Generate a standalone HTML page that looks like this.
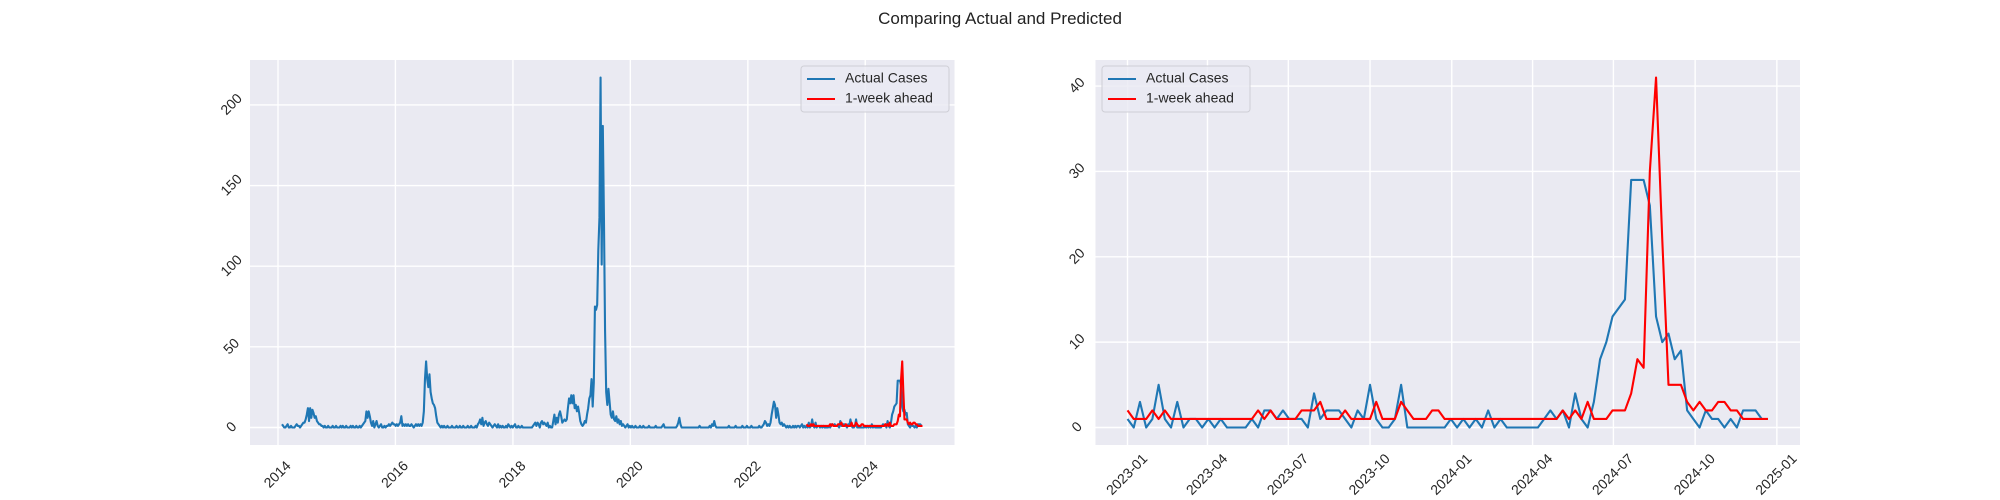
<!DOCTYPE html>
<html><head><meta charset="utf-8"><style>
html,body{margin:0;padding:0;background:#fff;}
svg{display:block;font-family:"Liberation Sans","DejaVu Sans",sans-serif;}
</style></head><body>
<svg id="fig" width="2000" height="500" viewBox="0 0 2000 500" xmlns="http://www.w3.org/2000/svg">
<text x="1000" y="24" text-anchor="middle" font-size="17" fill="#222">Comparing Actual and Predicted</text>
</svg>
<script>
// ---------- data ----------
const histActual = [
2,1,0,0,1,2,0,0,1,0,0,0,1,2,1,1,0,1,2,3,3,5,8,12,4,12,6,11,9,6,7,4,3,2,2,1,1,0,1,0,0,1,0,0,0,1,0,0,1,0,
0,0,1,0,1,0,0,1,0,0,0,1,0,1,0,0,1,0,0,1,0,1,2,3,4,10,6,10,7,3,1,4,0,2,4,1,0,1,2,0,0,1,0,1,1,2,1,2,3,2,2,1,
2,1,2,3,7,1,2,1,2,1,2,1,1,2,1,0,1,2,1,2,1,2,1,3,10,30,41,30,25,33,22,18,15,14,12,7,3,2,1,0,1,0,1,0,0,1,0,0,0,1,0,0,
0,1,0,0,1,0,0,1,0,0,0,1,0,0,1,0,0,0,1,0,2,3,5,2,6,1,3,4,2,1,3,2,1,0,1,2,1,0,2,0,1,0,1,0,0,1,0,2,1,0,1,0,
1,2,0,0,1,0,0,1,0,0,0,0,0,0,0,0,0,1,2,3,1,3,2,0,3,4,2,3,2,1,3,0,1,0,0,4,8,2,6,3,8,10,7,3,4,5,4,5,12,18,15,20,
15,20,12,14,10,13,9,4,2,1,2,4,3,8,12,18,20,30,13,28,75,73,76,110,130,217,101,187,130,60,22,14,24,16,8,6,10,5,4,7,3,5,2,4,1,2,1,0,1,2,0,1,
0,1,0,0,1,0,0,0,1,0,0,1,0,0,0,0,1,0,0,0,0,0,1,0,0,0,0,0,1,2,0,0,0,0,0,0,0,0,0,0,0,1,3,6,2,0,0,0,0,0,0,0,
0,0,0,0,0,0,0,0,0,1,0,0,0,0,0,0,0,0,1,0,2,1,4,1,0,0,0,0,0,0,0,0,0,0,0,1,0,0,0,0,0,1,0,0,0,0,0,1,0,0,0,1,
0,0,0,1,0,0,0,0,0,0,1,0,0,1,2,4,3,1,2,1,3,8,12,16,14,6,12,8,3,2,3,1,2,1,0,1,0,1,0,0,1,0,1,0,1,1,0,1,2,0,1,0
];
const recentActual = [
1,0,3,0,1,5,1,0,3,0,1,1,0,1,0,1,0,0,0,0,1,0,2,2,1,2,1,1,1,0,4,1,2,2,2,1,0,2,1,5,
1,0,0,1,5,0,0,0,0,0,0,0,1,0,1,0,1,0,2,0,1,0,0,0,0,0,0,1,2,1,2,0,4,1,0,3,8,10,13,14,
15,29,29,29,26,13,10,11,8,9,2,1,0,2,1,1,0,1,0,2,2,2,1
];
const predicted = [
2,1,1,1,2,1,2,1,1,1,1,1,1,1,1,1,1,1,1,1,1,2,1,2,1,1,1,1,2,2,2,3,1,1,1,2,1,1,1,1,
3,1,1,1,3,2,1,1,1,2,2,1,1,1,1,1,1,1,1,1,1,1,1,1,1,1,1,1,1,1,2,1,2,1,3,1,1,1,2,2,
2,4,8,7,30,41,22,5,5,5,3,2,3,2,2,3,3,2,2,1,1,1,1,1
];
const leftYTicks = [0,50,100,150,200];
const rightYTicks = [0,10,20,30,40];
const leftXTickYears = [2014,2016,2018,2020,2022,2024];
const rightXTickLabels = ["2023-01","2023-04","2023-07","2023-10","2024-01","2024-04","2024-07","2024-10","2025-01"];

// ---------- helpers ----------
const NS="http://www.w3.org/2000/svg";
const svg=document.getElementById('fig');
const DAY=86400000, WEEK=7*DAY;
const start23=Date.UTC(2023,0,1);
const histDates=histActual.map((_,i)=>start23-(histActual.length-i)*WEEK);
const recentDates=recentActual.map((_,i)=>start23+i*WEEK);
const predDates=predicted.map((_,i)=>start23+i*WEEK);
function el(tag,attrs,parent){const e=document.createElementNS(NS,tag);for(const k in attrs)e.setAttribute(k,attrs[k]);(parent||svg).appendChild(e);return e;}

function drawAxes(cfg){
  const {x0,x1,y0,y1,xmin,xmax,ymin,ymax,name}=cfg;
  const g=el('g',{});
  
  
  const bg=el('rect',{x:x0,y:y0,width:x1-x0,height:y1-y0,fill:'#EAEAF2'},g);
  
  
  const sx=v=>x0+(v-xmin)/(xmax-xmin)*(x1-x0);
  const sy=v=>y1-(v-ymin)/(ymax-ymin)*(y1-y0);
  return {g,sx,sy};
}
function xTick(ax,cfg,val,label){
  const x=ax.sx(val);
  const l=el('line',{x1:x,x2:x,y1:cfg.y0,y2:cfg.y1,stroke:'#fff','stroke-width':1.4},ax.g);
  
  
  const t=el('text',{x:x,y:cfg.y1+30,'text-anchor':'middle','dominant-baseline':'middle','font-size':14,fill:'#262626',transform:`rotate(-45 ${x} ${cfg.y1+30})`},ax.g);
  t.textContent=label;
  
  
}
function yTick(ax,cfg,val){
  const y=ax.sy(val);
  const l=el('line',{x1:cfg.x0,x2:cfg.x1,y1:y,y2:y,stroke:'#fff','stroke-width':1.4},ax.g);
  
  
  const tx=cfg.x0-18;
  const t=el('text',{x:tx,y:y,'text-anchor':'middle','dominant-baseline':'middle','font-size':14,fill:'#262626',transform:`rotate(-45 ${tx} ${y})`},ax.g);
  t.textContent=String(val);
  
  
}
function series(ax,dates,vals,color,name){
  const d=vals.map((v,i)=>(i?'L':'M')+ax.sx(dates[i]).toFixed(2)+','+ax.sy(v).toFixed(2)).join('');
  const p=el('path',{d:d,fill:'none',stroke:color,'stroke-width':2.1,'stroke-linejoin':'round'},ax.g);
  
  
}
function legend(g,x,y,name){
  const lg=el('g',{},g);
  
  
  el('rect',{x:x,y:y,width:148,height:46,rx:3,fill:'#EAEAF2','fill-opacity':0.8,stroke:'#cfcfd6','stroke-width':1},lg);
  const items=[['Actual Cases','#1f77b4'],['1-week ahead','red']];
  items.forEach((it,i)=>{
    const yy=y+13+i*20;
    const ln=el('line',{x1:x+6,x2:x+34,y1:yy,y2:yy,stroke:it[1],'stroke-width':2.1},lg);
    
    
    const t=el('text',{x:x+44,y:yy,'dominant-baseline':'middle','font-size':14,fill:'#262626'},lg);
    t.textContent=it[0];
    
    
  });
}
function pad(lo,hi){const r=hi-lo;return [lo-0.05*r,hi+0.05*r];}

// ---------- left chart ----------
const allLeftDates=histDates.concat(recentDates,predDates);
const allLeftVals=histActual.concat(recentActual,predicted);
const [lxmin,lxmax]=pad(Math.min(...allLeftDates),Math.max(...allLeftDates));
const [lymin,lymax]=pad(Math.min(...allLeftVals),Math.max(...allLeftVals));
const Lcfg={x0:250,x1:954.5,y0:60,y1:445,xmin:lxmin,xmax:lxmax,ymin:lymin,ymax:lymax,name:'left-chart'};
const L=drawAxes(Lcfg);
leftYTicks.forEach(v=>yTick(L,Lcfg,v));
leftXTickYears.forEach(yr=>xTick(L,Lcfg,Date.UTC(yr,0,1),String(yr)));
series(L,histDates.concat(recentDates),histActual.concat(recentActual),'#1f77b4','left-actual-line');
series(L,predDates,predicted,'red','left-predicted-line');
legend(L.g,801,66,'left-legend');

// ---------- right chart ----------
const allRDates=recentDates.concat(predDates);
const allRVals=recentActual.concat(predicted);
const [rxmin,rxmax]=pad(Math.min(...allRDates),Math.max(...allRDates));
const [rymin,rymax]=pad(Math.min(...allRVals),Math.max(...allRVals));
const Rcfg={x0:1095.5,x1:1800,y0:60,y1:445,xmin:rxmin,xmax:rxmax,ymin:rymin,ymax:rymax,name:'right-chart'};
const R=drawAxes(Rcfg);
rightYTicks.forEach(v=>yTick(R,Rcfg,v));
rightXTickLabels.forEach(s=>{const [y,m]=s.split('-').map(Number);xTick(R,Rcfg,Date.UTC(y,m-1,1),s);});
series(R,recentDates,recentActual,'#1f77b4','right-actual-line');
series(R,predDates,predicted,'red','right-predicted-line');
legend(R.g,1102,66,'right-legend');
</script>
</body></html>
